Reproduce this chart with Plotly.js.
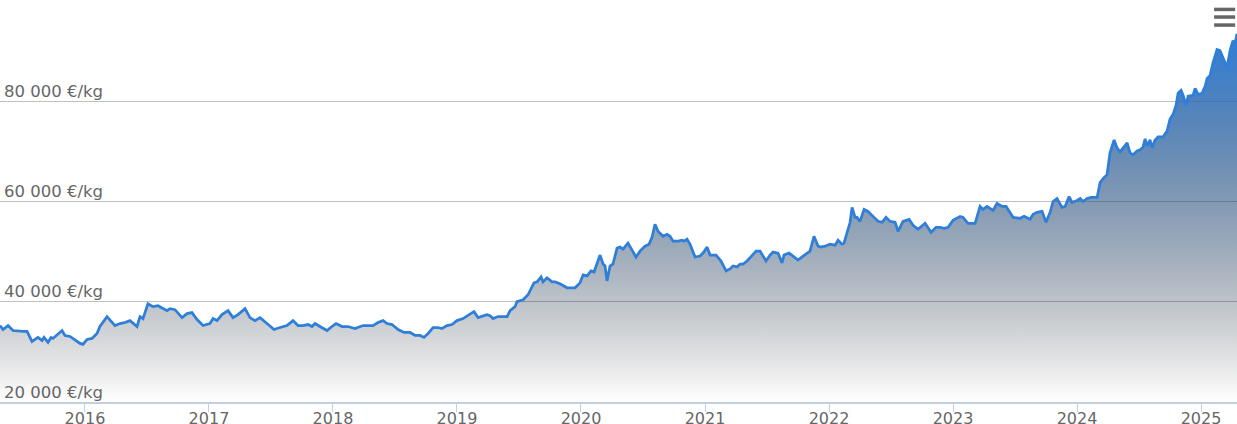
<!DOCTYPE html>
<html>
<head>
<meta charset="utf-8">
<script src="https://cdn.plot.ly/plotly-3.0.1.min.js"></script>
<style>
  html, body { margin: 0; padding: 0; background: #ffffff; }
  #chart { width: 1237px; height: 424px; }
</style>
</head>
<body>
<div id="chart"></div>
<script>
// Time as decimal years, gold price in €/kg
const dates = [
  // 2015-05 .. 2017-01
  2015.315,2015.339,2015.380,2015.420,2015.500,2015.533,2015.573,2015.621,2015.654,2015.670,2015.702,2015.726,2015.742,2015.815,2015.839,2015.880,2015.960,2015.984,2016.017,2016.057,2016.097,2016.121,2016.178,2016.242,2016.283,2016.323,2016.363,2016.420,2016.444,2016.468,2016.508,2016.549,2016.589,2016.629,2016.662,2016.686,2016.726,2016.783,2016.823,2016.863,2016.904,2016.952,2017.008,
  // 2017 .. 2018-08
  2017.033,2017.065,2017.105,2017.154,2017.194,2017.234,2017.291,2017.331,2017.371,2017.412,2017.468,2017.525,2017.573,2017.629,2017.678,2017.718,2017.758,2017.799,2017.831,2017.855,2017.895,2017.952,2017.992,2018.025,2018.073,2018.121,2018.178,2018.242,2018.323,2018.363,2018.404,2018.436,2018.476,2018.525,2018.573,2018.622,
  // 2018-09 .. 2020-03
  2018.662,2018.702,2018.734,2018.767,2018.807,2018.847,2018.879,2018.920,2018.960,2019.000,2019.049,2019.089,2019.137,2019.170,2019.210,2019.242,2019.266,2019.291,2019.331,2019.371,2019.404,2019.428,2019.468,2019.484,2019.533,2019.573,2019.605,2019.621,2019.646,2019.678,2019.694,2019.726,2019.767,2019.791,2019.831,2019.888,2019.928,2019.952,2019.992,2020.017,2020.049,2020.081,2020.105,2020.154,2020.178,2020.194,2020.210,2020.234,
  // 2020-04 .. 2021-11
  2020.258,2020.291,2020.315,2020.339,2020.379,2020.412,2020.444,2020.476,2020.516,2020.549,2020.573,2020.597,2020.621,2020.662,2020.694,2020.718,2020.742,2020.783,2020.815,2020.831,2020.855,2020.879,2020.920,2020.960,2020.984,2021.017,2021.041,2021.089,2021.129,2021.170,2021.202,2021.226,2021.258,2021.283,2021.307,2021.339,2021.379,2021.412,2021.444,2021.492,2021.525,2021.549,2021.589,2021.621,2021.637,2021.678,2021.710,2021.750,2021.791,2021.815,2021.847,
  // 2021-11 .. 2023-06
  2021.879,2021.912,2021.936,2021.968,2022.008,2022.049,2022.073,2022.105,2022.121,2022.146,2022.170,2022.186,2022.210,2022.226,2022.250,2022.283,2022.315,2022.355,2022.396,2022.428,2022.460,2022.492,2022.533,2022.557,2022.597,2022.646,2022.678,2022.718,2022.775,2022.823,2022.863,2022.895,2022.928,2022.960,2023.000,2023.057,2023.081,2023.121,2023.178,2023.218,2023.242,2023.274,2023.323,2023.355,2023.396,2023.428,2023.460,
  // 2023-06 .. 2025-04
  2023.484,2023.541,2023.573,2023.621,2023.646,2023.678,2023.718,2023.750,2023.783,2023.807,2023.839,2023.879,2023.904,2023.936,2023.960,2024.000,2024.025,2024.049,2024.081,2024.113,2024.162,2024.186,2024.210,2024.242,2024.266,2024.299,2024.323,2024.347,2024.371,2024.404,2024.428,2024.452,2024.484,2024.508,2024.533,2024.549,2024.565,2024.589,2024.605,2024.629,2024.654,2024.694,2024.726,2024.750,2024.775,2024.799,2024.815,2024.839,2024.855,2024.880,2024.896,2024.936,2024.952,2024.976,2025.008,2025.033,2025.049,2025.073,2025.097,2025.129,2025.153,2025.178,2025.210,2025.234,2025.258,2025.274,2025.290
];

const prices = [
  35250,34460,35250,34260,34070,34070,32090,32880,32280,32880,31890,32880,32680,34260,33270,33080,31690,31490,32480,32680,33670,35060,37040,35250,35650,35850,36240,35060,37040,36640,39610,39020,39210,38620,38220,38620,38420,36840,37630,37830,36440,35250,35650,
  36640,36240,37430,38220,36840,37430,38620,36840,36240,36840,35650,34460,34860,35250,36240,35250,35250,35450,35060,35650,35060,34260,35060,35650,35060,35060,34660,35250,35250,35850,36240,35650,35450,34460,33870,33870,
  33270,33270,32880,33670,34860,34860,34660,35250,35450,36240,36640,37230,38030,36840,37230,37430,37230,36640,37040,37040,37040,38220,39020,40010,40400,41390,42980,43770,43970,44960,43970,44760,43970,43970,43570,42780,42780,42780,43770,45350,45150,46140,45950,49310,47530,47130,44160,47130,
  47530,50700,50900,50500,51690,50300,48920,50100,51090,51490,52880,55450,54060,53070,53470,53070,52080,52080,52280,52080,52480,51490,48920,49110,49710,50900,49310,49310,48120,46140,46540,47130,46940,47530,47530,48120,49310,50100,50100,48120,49310,49910,49710,47730,49310,49710,49110,48320,49110,49510,50100,
  53070,51090,50900,51090,51490,51290,52280,51490,51690,53870,55850,58820,56840,56840,56040,58420,58020,57030,56040,55850,56840,56040,55850,54060,56040,56440,55250,54460,55650,53870,54860,54860,54660,54860,56240,57030,56840,55650,55650,59010,58420,59010,58220,59610,59010,59010,57830,
  56840,56640,57030,56440,57430,57830,58020,55850,57830,60000,60600,58820,59010,60990,59810,60200,60600,60000,60600,60800,60800,63770,64560,65350,69710,72280,70700,69900,70700,71690,69710,69310,70100,70300,70890,72480,71090,72280,70700,72280,72870,72870,74060,76440,77430,79210,81590,82180,81190,79210,80990,81190,82580,81390,81590,82970,84560,85150,87720,90300,90100,88710,86730,90100,92080,91490,93470
];

const yearTicks  = [2016, 2017, 2018, 2019, 2020, 2021, 2022, 2023, 2024, 2025];
const yearLabels = ["2016", "2017", "2018", "2019", "2020", "2021", "2022", "2023", "2024", "2025"];
const priceTicks  = [20000, 40000, 60000, 80000, 100000];
const priceLabels = ["20 000 €/kg", "40 000 €/kg", "60 000 €/kg", "80 000 €/kg", ""];

const labelFont  = { family: "DejaVu Sans, Verdana, sans-serif", size: 16, color: "#666666" };
const yLabelFont = { family: "DejaVu Sans, Verdana, sans-serif", size: 16.5, color: "#666666" };

const trace = {
  type: "scatter",
  mode: "lines",
  x: dates,
  y: prices,
  line: { color: "#2f7ed8", width: 2.75 },
  fill: "tozeroy",
  fillgradient: {
    type: "vertical",
    start: priceTicks[0],
    stop: Math.max.apply(null, prices),
    colorscale: [[0, "rgba(0,0,0,0)"], [1, "rgba(47,126,216,1)"]]
  },
  hoverinfo: "skip"
};

function bar(yp) {
  return { type: "line", xref: "paper", yref: "paper", x0: 0.9815, x1: 0.9985, y0: yp, y1: yp,
           line: { color: "#666666", width: 3.5 }, layer: "above" };
}

// y-axis labels drawn inside the plot, above their gridlines
const yLabelAnnotations = priceTicks.map(function (v, i) {
  return {
    xref: "paper", yref: "y", x: 0, y: v,
    xanchor: "left", yanchor: "bottom",
    xshift: 2, yshift: -1.5,
    text: priceLabels[i], showarrow: false,
    font: yLabelFont
  };
}).filter(function (a) { return a.text !== ""; });

const layout = {
  width: 1237, height: 424,
  margin: { l: 0, r: 0, t: 1, b: 22, pad: 0 },
  paper_bgcolor: "#ffffff", plot_bgcolor: "#ffffff",
  showlegend: false,
  xaxis: {
    type: "linear",
    range: [dates[0], dates[dates.length - 1]],
    tickmode: "array", tickvals: yearTicks, ticktext: yearLabels,
    ticks: "outside", ticklen: 8, tickwidth: 1, tickcolor: "#c0d0e0",
    ticklabelstandoff: -7,
    showline: true, linecolor: "#c0d0e0", linewidth: 2,
    showgrid: false, zeroline: false,
    tickfont: labelFont,
    fixedrange: true
  },
  yaxis: {
    range: [priceTicks[0], priceTicks[priceTicks.length - 1]],
    tickmode: "array", tickvals: priceTicks,
    showticklabels: false,
    ticks: "", showline: false, zeroline: false,
    showgrid: true, gridcolor: "#c0c0c0", gridwidth: 1,
    fixedrange: true
  },
  annotations: yLabelAnnotations,
  shapes: [bar(0.979), bar(0.960), bar(0.940)]
};

Plotly.newPlot("chart", [trace], layout, { displayModeBar: false, staticPlot: true });
</script>
</body>
</html>
